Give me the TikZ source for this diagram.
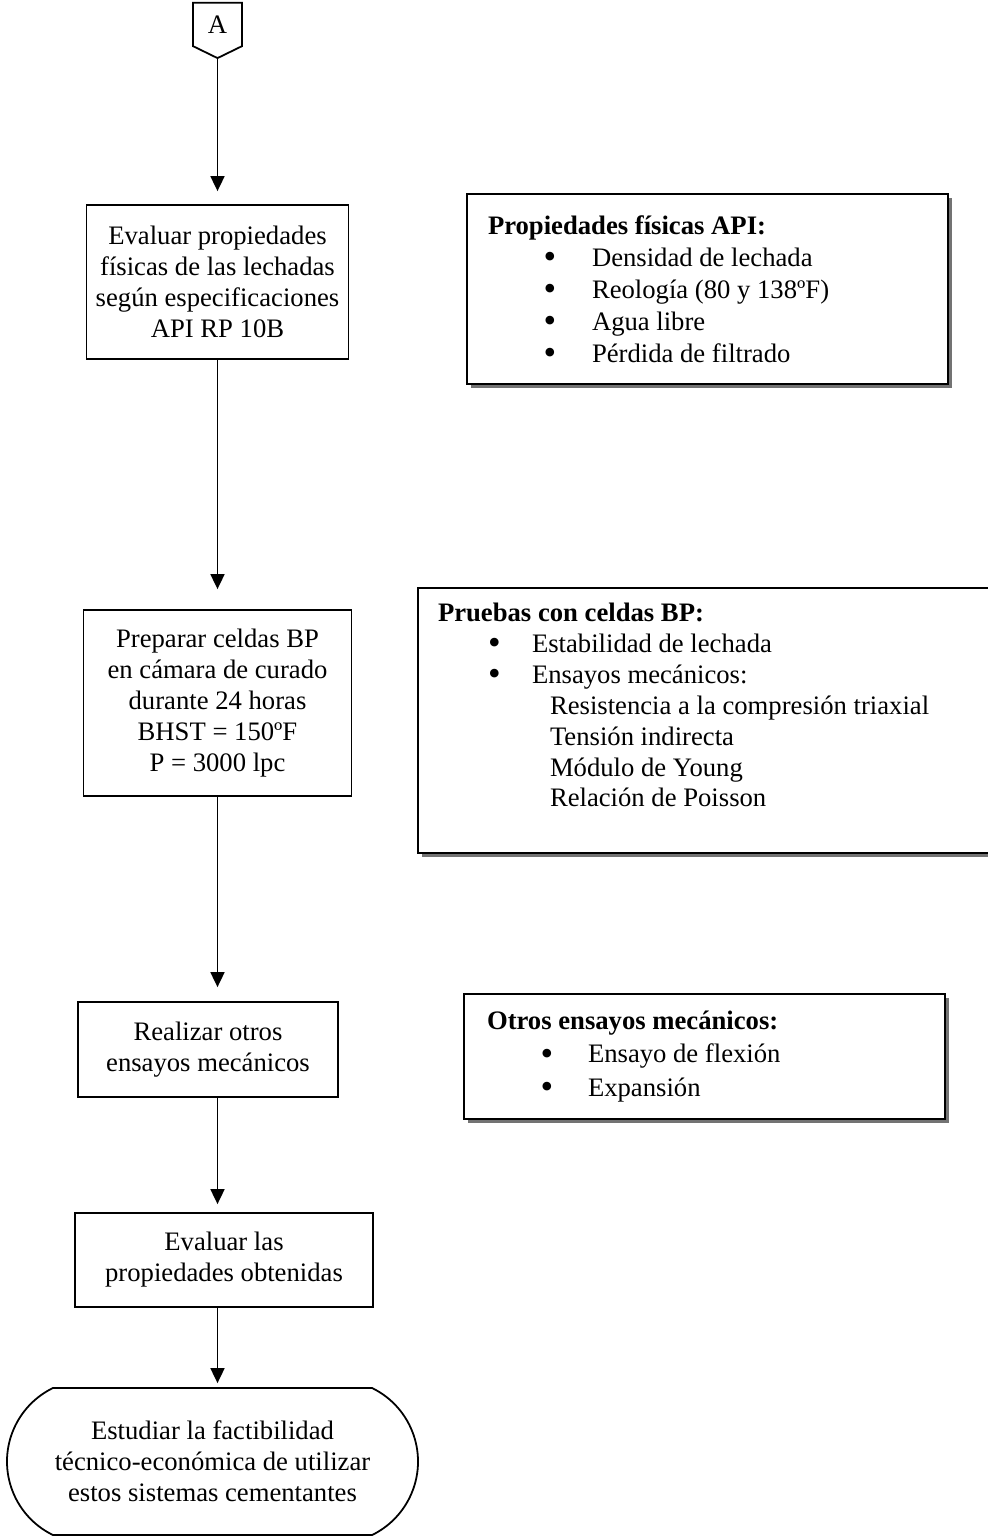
\documentclass[tikz,border=0pt]{standalone}
\usepackage{fontspec}
\usepackage{graphicx}
\setmainfont{Liberation Serif}
\usetikzlibrary{arrows.meta,shapes.misc,shapes.symbols,shadows}
\newdimen\upx \upx=0.45pt
\newcommand{\bala}[3]{\hspace*{#1\upx}\makebox[#2\upx][l]{\smash{\raisebox{-0.2ex}{\scalebox{1.35}{\textbullet}}}}#3}

\begin{document}
\begin{tikzpicture}[x=0.45pt,y=-0.45pt]
\tikzstyle{every node}+=[inner sep=0pt, font=\fontsize{12}{13.9}\selectfont]
\tikzstyle{caja}=[draw, line width=0.8pt, align=center]
\tikzstyle{lado}=[draw, line width=0.8pt, fill=white, align=flush left, drop shadow={shadow xshift=4\upx, shadow yshift=-4\upx, fill=black!55, opacity=1}]
\tikzstyle{flecha}=[line width=0.8pt, -{Triangle[length=6.75pt,width=6.3pt]}]
\useasboundingbox (0,0) rectangle (987,1536);
\coordinate (eje) at (217.5,0);
% conector de pagina
\node[draw, line width=0.8pt, signal, signal to=south, signal pointer angle=128, minimum width=49\upx, minimum height=48\upx] (A) at (217.5,24.5) {A};
% pasos
\node[caja, minimum width=262\upx, minimum height=154\upx] (eval) at (217.5,282) {Evaluar propiedades\\físicas de las lechadas\\según especificaciones\\API RP 10B};
\node[caja, minimum width=268\upx, minimum height=186\upx] (prep) at (217.5,703) {Preparar celdas BP\\en cámara de curado\\durante 24 horas\\BHST = 150ºF\\P = 3000 lpc};
\node[caja, minimum width=260\upx, minimum height=95\upx] (otros) at (208,1049.5) {Realizar otros\\ensayos mecánicos};
\node[caja, minimum width=298\upx, minimum height=94\upx] (evprop) at (224,1260) {Evaluar las\\propiedades obtenidas};
\node[caja, rounded rectangle, rounded rectangle arc length=128, minimum width=411\upx, minimum height=147\upx] (fin) at (212.5,1461.5) {Estudiar la factibilidad\\técnico-económica de utilizar\\estos sistemas cementantes};
% cuadros laterales
\node[lado, minimum width=481\upx, minimum height=190\upx, text width=439\upx, font=\fontsize{12}{14.4}\selectfont] (pfis) at (707.5,289) {\textbf{Propiedades físicas API:}\\
\bala{55.5}{48.5}{Densidad de lechada}\\
\bala{55.5}{48.5}{Reología (80 y 138ºF)}\\
\bala{55.5}{48.5}{Agua libre}\\
\bala{55.5}{48.5}{Pérdida de filtrado}};
\node[lado, minimum width=582\upx, minimum height=265\upx, text width=542\upx] (pbp) at (709,720.5) {\textbf{Pruebas con celdas BP:}\\
\bala{50}{44}{Estabilidad de lechada}\\
\bala{50}{44}{Ensayos mecánicos:}\\
\hspace*{112\upx}Resistencia a la compresión triaxial\\
\hspace*{112\upx}Tensión indirecta\\
\hspace*{112\upx}Módulo de Young\\
\hspace*{112\upx}Relación de Poisson\\
\mbox{}};
\node[lado, minimum width=481\upx, minimum height=125\upx, text width=435\upx, font=\fontsize{12}{15}\selectfont] (pmec) at (704.5,1056.5) {\textbf{Otros ensayos mecánicos:}\\
\bala{53.5}{47.5}{Ensayo de flexión}\\
\bala{53.5}{47.5}{Expansión}};
% flechas
\draw[flecha, shorten >=5.85pt] (A.south) -- (eval.north);
\draw[flecha, shorten >=9pt] (eval.south) -- (prep.north);
\draw[flecha, shorten >=6.3pt] (prep.south) -- (eje |- otros.north);
\draw[flecha, shorten >=3.6pt] (eje |- otros.south) -- (eje |- evprop.north);
\draw[flecha, shorten >=1.8pt] (eje |- evprop.south) -- (eje |- fin.north);
\end{tikzpicture}
\end{document}
